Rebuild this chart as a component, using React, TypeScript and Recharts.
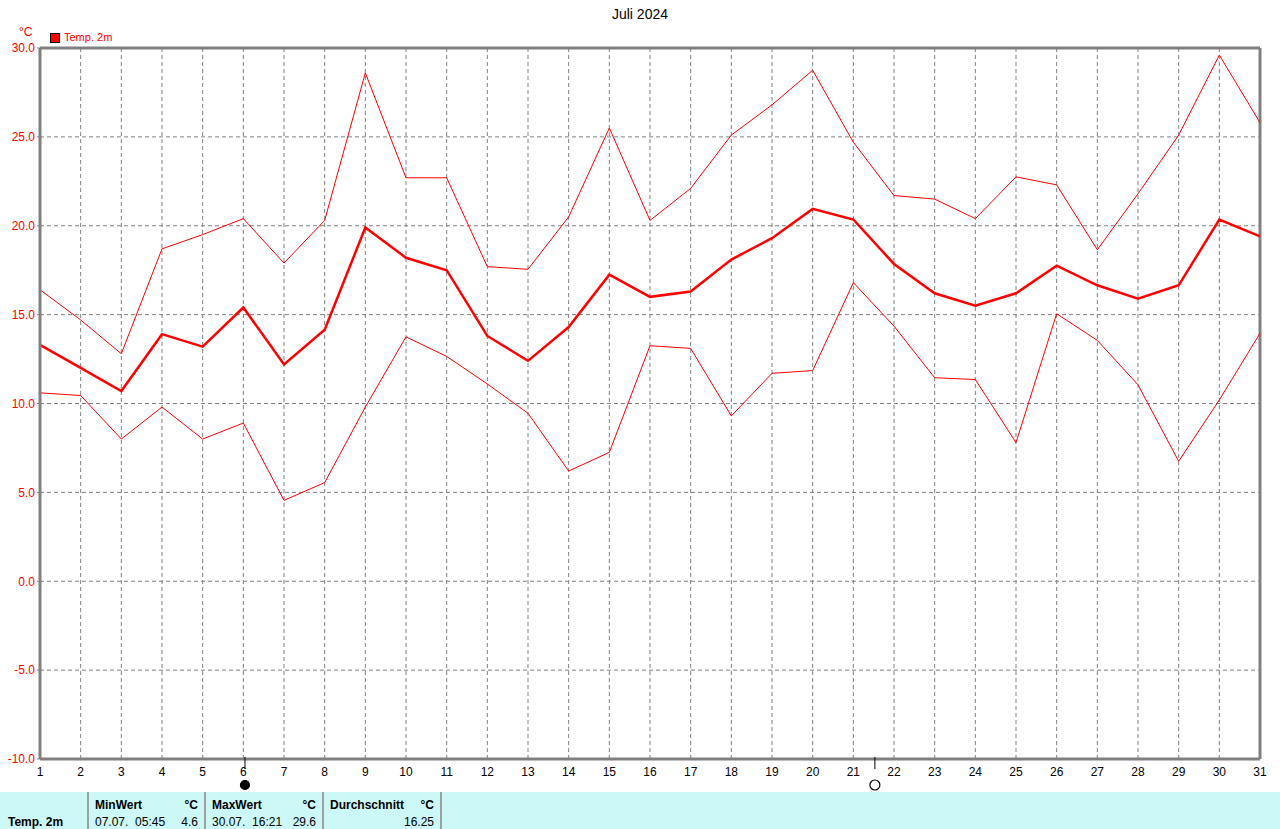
import React from 'react'
import {
  LineChart,
  Line,
  XAxis,
  YAxis,
  CartesianGrid,
  ReferenceLine,
  ReferenceDot,
} from 'recharts'

const days = [
  1, 2, 3, 4, 5, 6, 7, 8, 9, 10, 11, 12, 13, 14, 15, 16, 17, 18, 19, 20, 21, 22, 23, 24, 25, 26,
  27, 28, 29, 30, 31,
]
const maxTemp = [
  16.4, 14.7, 12.8, 18.7, 19.5, 20.4, 17.9, 20.3, 28.6, 22.7, 22.7, 17.7, 17.55, 20.5, 25.5, 20.3,
  22.1, 25.1, 26.8, 28.75, 24.7, 21.7, 21.5, 20.4, 22.75, 22.3, 18.65, 21.8, 25.1, 29.6, 25.8,
]
const meanTemp = [
  13.3, 12.0, 10.7, 13.9, 13.2, 15.4, 12.2, 14.15, 19.9, 18.2, 17.5, 13.8, 12.4, 14.3, 17.25, 16.0,
  16.3, 18.1, 19.3, 20.95, 20.35, 17.85, 16.2, 15.5, 16.2, 17.75, 16.65, 15.9, 16.65, 20.35, 19.4,
]
const minTemp = [
  10.6, 10.45, 8.0, 9.8, 8.0, 8.9, 4.55, 5.55, 9.8, 13.75, 12.65, 11.1, 9.45, 6.2, 7.25, 13.25, 13.1,
  9.3, 11.7, 11.85, 16.8, 14.35, 11.45, 11.35, 7.8, 15.05, 13.55, 11.05, 6.75, 10.2, 13.95,
]
const yTicks = [-10, -5, 0, 5, 10, 15, 20, 25, 30]
const moonPhases = [
  { day: 6.04, kind: 'new' },
  { day: 21.53, kind: 'full' },
]

const data = days.map((d, i) => ({
  day: d,
  max: maxTemp[i],
  mean: meanTemp[i],
  min: minTemp[i],
}))

const FONT = '"Liberation Sans", Arial, sans-serif'
const GRAY = '#808080'

function MoonMark(props: any) {
  const { cx, cy, kind } = props
  if (cx == null || cy == null) return null
  return (
    <g>
      <line x1={cx} y1={cy - 2} x2={cx} y2={cy + 10} stroke="#000" strokeWidth={1} />
      <circle
        cx={cx}
        cy={cy + 26}
        r={kind === 'new' ? 4.5 : 5}
        fill={kind === 'new' ? '#000' : '#fff'}
        stroke="#000"
        strokeWidth={1.2}
      />
    </g>
  )
}

const cellStyle: React.CSSProperties = {
  position: 'absolute',
  fontSize: 12,
  fontFamily: FONT,
  color: '#000',
  whiteSpace: 'pre',
}

export default function App() {
  return (
    <div
      style={{
        position: 'absolute',
        left: 0,
        top: 0,
        width: 1280,
        height: 829,
        background: '#fff',
        overflow: 'hidden',
        fontFamily: FONT,
      }}
    >
      <div style={{ position: 'absolute', left: 0, width: 1280, top: 6, textAlign: 'center', fontSize: 14 }}>
        Juli 2024
      </div>
      <div style={{ position: 'absolute', left: 19, top: 25, fontSize: 12, color: '#ff0000' }}>°C</div>
      <div
        style={{
          position: 'absolute',
          left: 50,
          top: 33,
          width: 8,
          height: 8,
          background: '#ff0000',
          border: '1px solid #000',
        }}
      />
      <div style={{ position: 'absolute', left: 64, top: 31, fontSize: 11, color: '#ff0000' }}>Temp. 2m</div>

      <div style={{ position: 'absolute', left: 0, top: 2 }}>
        <LineChart width={1280} height={792} data={data} margin={{ top: 46, right: 20, bottom: 0, left: 0 }}>
          <CartesianGrid stroke={GRAY} strokeDasharray="4 3" />
          <XAxis
            dataKey="day"
            type="number"
            domain={[1, 31]}
            ticks={days}
            interval={0}
            height={35}
            tickLine={false}
            axisLine={{ stroke: GRAY, strokeWidth: 3 }}
            tick={{ fill: '#000', fontSize: 12, fontFamily: FONT }}
          />
          <YAxis
            type="number"
            domain={[-10, 30]}
            ticks={yTicks}
            width={40}
            tickSize={3}
            tickLine={{ stroke: GRAY }}
            axisLine={{ stroke: GRAY, strokeWidth: 3 }}
            tickFormatter={(v: number) => v.toFixed(1)}
            tick={{ fill: '#ff0000', fontSize: 12, fontFamily: FONT }}
          />
          <ReferenceLine y={30} stroke={GRAY} strokeWidth={3} />
          <ReferenceLine x={31} stroke={GRAY} strokeWidth={3} />
          <Line
            dataKey="max"
            type="linear"
            stroke="#ff0000"
            strokeWidth={1}
            dot={false}
            activeDot={false}
            isAnimationActive={false}
          />
          <Line
            dataKey="min"
            type="linear"
            stroke="#ff0000"
            strokeWidth={1}
            dot={false}
            activeDot={false}
            isAnimationActive={false}
          />
          <Line
            dataKey="mean"
            type="linear"
            stroke="#ff0000"
            strokeWidth={2.5}
            dot={false}
            activeDot={false}
            isAnimationActive={false}
          />
          {moonPhases.map((m) => (
            <ReferenceDot
              key={m.day}
              x={m.day}
              y={-10}
              ifOverflow="visible"
              shape={(p: any) => <MoonMark {...p} kind={m.kind} />}
            />
          ))}
        </LineChart>
      </div>

      <div style={{ position: 'absolute', left: 0, top: 792, width: 1280, height: 37, background: '#ccf8f8' }}>
        {[88, 205, 323, 441].map((x) => (
          <div key={x} style={{ position: 'absolute', left: x - 1, top: 0, width: 2, height: 37, background: '#a0a0a0' }} />
        ))}
        <div style={{ ...cellStyle, left: 8, top: 23, fontWeight: 'bold' }}>Temp. 2m</div>
        <div style={{ ...cellStyle, left: 95, top: 6, fontWeight: 'bold' }}>MinWert</div>
        <div style={{ ...cellStyle, left: 150, width: 48, textAlign: 'right', top: 6, fontWeight: 'bold' }}>°C</div>
        <div style={{ ...cellStyle, left: 95, top: 23 }}>07.07.  05:45</div>
        <div style={{ ...cellStyle, left: 150, width: 48, textAlign: 'right', top: 23 }}>4.6</div>
        <div style={{ ...cellStyle, left: 212, top: 6, fontWeight: 'bold' }}>MaxWert</div>
        <div style={{ ...cellStyle, left: 268, width: 48, textAlign: 'right', top: 6, fontWeight: 'bold' }}>°C</div>
        <div style={{ ...cellStyle, left: 212, top: 23 }}>30.07.  16:21</div>
        <div style={{ ...cellStyle, left: 268, width: 48, textAlign: 'right', top: 23 }}>29.6</div>
        <div style={{ ...cellStyle, left: 330, top: 6, fontWeight: 'bold' }}>Durchschnitt</div>
        <div style={{ ...cellStyle, left: 386, width: 48, textAlign: 'right', top: 6, fontWeight: 'bold' }}>°C</div>
        <div style={{ ...cellStyle, left: 386, width: 48, textAlign: 'right', top: 23 }}>16.25</div>
      </div>
    </div>
  )
}
